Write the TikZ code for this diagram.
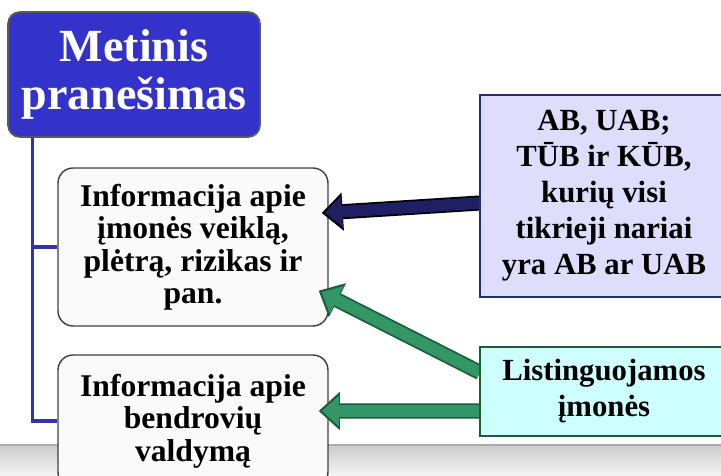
\documentclass[tikz,border=0pt]{standalone}
\usepackage{fontspec}
\setmainfont{Liberation Serif}
\usetikzlibrary{arrows.meta,calc}

\definecolor{titleblue}{RGB}{51,51,204}
\definecolor{branchblue}{RGB}{51,51,170}
\definecolor{navyfill}{RGB}{31,31,100}
\definecolor{navyline}{RGB}{31,47,111}
\definecolor{lavender}{RGB}{222,222,252}
\definecolor{greenfill}{RGB}{51,150,102}
\definecolor{greenline}{RGB}{28,92,58}
\definecolor{paleaqua}{RGB}{206,255,255}

\pgfdeclarelayer{back}
\pgfdeclarelayer{mid}
\pgfsetlayers{back,mid,main}

\tikzset{
	headbox/.style={rectangle, rounded corners=0.24cm, draw=gray!70!black, line width=1pt, fill=titleblue, text=white, font=\bfseries\fontsize{26.2}{27.6}\selectfont, align=center, minimum width=5.04cm, minimum height=2.5cm, inner sep=0pt},
	infobox/.style={rectangle, rounded corners=0.3cm, draw=black!75, line width=0.8pt, fill=gray!4, font=\bfseries\fontsize{18}{18.5}\selectfont, align=center, minimum width=5.4cm, inner sep=0pt},
	sidebox/.style={rectangle, draw=#1, line width=1.2pt, font=\bfseries\fontsize{17.5}{20.5}\selectfont, align=center, minimum width=4.96cm, inner sep=0pt},
	branch/.style={draw=branchblue, line width=1.8pt},
	fatarrow/.style 2 args={draw=#1, line width=6.6pt, shorten >=1.8pt, -{Triangle[length=9.8pt,width=17pt]},
		preaction={draw=#2, line width=8.6pt, shorten >=0pt, -{Triangle[length=12pt,width=21pt]}}}
}

\begin{document}
\begin{tikzpicture}[x=0.02cm, y=-0.02cm]
	\useasboundingbox (0,0) rectangle (721,476);

	% gray band at the bottom
	\begin{pgfonlayer}{back}
	\fill[top color=gray!40, bottom color=gray!8] (0,445) rectangle (721,476);
	\draw[gray!65, line width=1.4pt] (0,445) -- (721,445);
	\end{pgfonlayer}

	\node 	(title)		at	(134,74.5) 	[headbox]{Metinis\\pranešimas};

	\begin{pgfonlayer}{back}
	\node 	(info1)		at	(193,247) 	[infobox, minimum height=3.16cm]{Informacija apie\\įmonės veiklą,\\plėtrą, rizikas ir\\pan.};
	\node 	(info2)		at	(193,421) 	[infobox, minimum height=2.64cm]{Informacija apie\\bendrovių\\valdymą};

	\draw[branch] 	($(title.south west)+(25,0)$) 	|- 	(info1.west);
	\draw[branch] 	($(title.south west)+(25,0)$) 	|- 	(info2.west);
	\end{pgfonlayer}

	\node 	(firms)		at	(604,196) 	[sidebox=navyline, fill=lavender, minimum height=4.04cm]{AB, UAB;\\TŪB ir KŪB,\\kurių visi\\tikrieji nariai\\yra AB ar UAB};
	\node 	(listed)	at	(604,391.5) 	[sidebox=greenline, fill=paleaqua, minimum height=1.78cm]{Listinguojamos\\įmonės};

	\begin{pgfonlayer}{mid}
	\draw[fatarrow={navyfill}{black}]	($(firms.west)+(1,7)$)	--	($(info1.east)+(-7,-34)$);
	\draw[fatarrow={greenfill}{greenline}]	($(listed.west)+(1,-19)$)	--	($(info1.south east)+(-10,-36)$);
	\draw[fatarrow={greenfill}{greenline}]	($(listed.west)+(1,19.5)$)	--	($(info2.east)+(-10,-10)$);
	\end{pgfonlayer}

\end{tikzpicture}
\end{document}
